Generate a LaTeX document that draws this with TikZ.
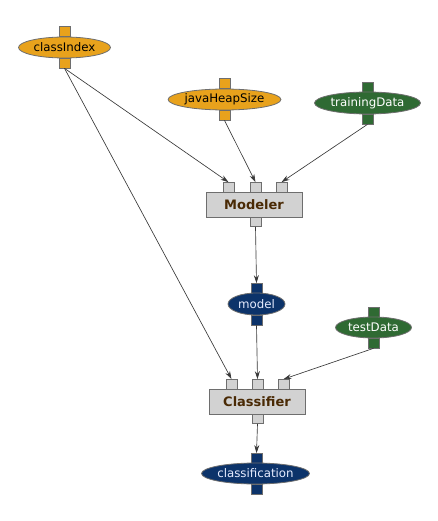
\documentclass[tikz,border=0pt]{standalone}
\usepackage{fontspec}
\setmainfont{DejaVu Sans}
\usetikzlibrary{shapes.geometric,arrows.meta}
\definecolor{orangeN}{HTML}{E8A21C}
\definecolor{greenN}{HTML}{2F6A33}
\definecolor{navyN}{HTML}{0C336A}
\definecolor{boxN}{HTML}{D2D2D2}
\definecolor{edgeN}{HTML}{6E6E6E}
\definecolor{txtB}{HTML}{4A2A05}
\definecolor{lightT}{HTML}{E6ECFF}
\tikzset{
  ell/.style={ellipse, draw=edgeN, line width=0.8pt, inner sep=0pt, font=\fontsize{11.8}{12}\selectfont},
  orangeell/.style={ell, fill=orangeN, text=black},
  greenell/.style={ell, fill=greenN, text=white},
  navyell/.style={ell, fill=navyN, text=lightT},
  port/.style={rectangle, draw=edgeN, line width=0.7pt, minimum width=11pt, minimum height=10pt, inner sep=0pt},
  procbox/.style={rectangle, draw=edgeN, line width=0.8pt, fill=boxN, minimum width=96pt, minimum height=25pt, inner sep=0pt, text=txtB, font=\bfseries\fontsize{13}{14}\selectfont},
  conn/.style={draw=black!78, line width=0.65pt, -{Stealth[length=8pt,width=5pt]}}
}
\begin{document}
\begin{tikzpicture}[x=1pt,y=-1pt]
\useasboundingbox (0,0) rectangle (438,521);
% ports of data nodes
\node[port, fill=orangeN] (ciT) at (64.5,31.5) {};
\node[port, fill=orangeN] (ciB) at (64.5,63) {};
\node[port, fill=orangeN] (jhT) at (224.5,83.5) {};
\node[port, fill=orangeN] (jhB) at (224.5,115) {};
\node[port, fill=greenN] (tdT) at (367.5,87) {};
\node[port, fill=greenN] (tdB) at (367.5,119) {};
\node[port, fill=navyN] (moT) at (256.5,288.5) {};
\node[port, fill=navyN] (moB) at (256.5,320) {};
\node[port, fill=greenN] (teT) at (373.5,312) {};
\node[port, fill=greenN] (teB) at (373.5,343) {};
\node[port, fill=navyN] (clT) at (256.5,458.5) {};
\node[port, fill=navyN] (clB) at (256.5,489) {};
% data nodes
\node[orangeell, minimum width=92pt, minimum height=21pt] (classIndex) at (64.5,47.5) {classIndex};
\node[orangeell, minimum width=112pt, minimum height=21pt] (javaHeapSize) at (224.5,99.5) {javaHeapSize};
\node[greenell, minimum width=106pt, minimum height=22pt] (trainingData) at (367.5,103) {trainingData};
\node[navyell, minimum width=57pt, minimum height=22pt] (model) at (256.5,304) {model};
\node[greenell, minimum width=76pt, minimum height=21pt] (testData) at (373.5,327.5) {testData};
\node[navyell, minimum width=106pt, minimum height=21pt] (classification) at (255.5,473.5) {classification};
% processors
\node[port, fill=boxN] (mP1) at (228.5,187.5) {};
\node[port, fill=boxN] (mP2) at (255.5,187.5) {};
\node[port, fill=boxN] (mP3) at (281.5,187.5) {};
\node[port, fill=boxN] (mOut) at (255.5,221.5) {};
\node[procbox] (Modeler) at (254,204.5) {Modeler};
\node[port, fill=boxN] (cP1) at (231.5,384.5) {};
\node[port, fill=boxN] (cP2) at (257.5,384.5) {};
\node[port, fill=boxN] (cP3) at (283.5,384.5) {};
\node[port, fill=boxN] (cOut) at (257.5,418.5) {};
\node[procbox] (Classifier) at (257,401.5) {Classifier};
% connectors
\draw[conn] (ciB.south) -- (mP1.north);
\draw[conn] (ciB.south) -- (cP1.north);
\draw[conn] (jhB.south) -- (mP2.north);
\draw[conn] (tdB.south) -- (mP3.north);
\draw[conn] (mOut.south) -- (moT.north);
\draw[conn] (moB.south) -- (cP2.north);
\draw[conn] (teB.south) -- (cP3.north);
\draw[conn] (cOut.south) -- (clT.north);
\end{tikzpicture}
\end{document}
